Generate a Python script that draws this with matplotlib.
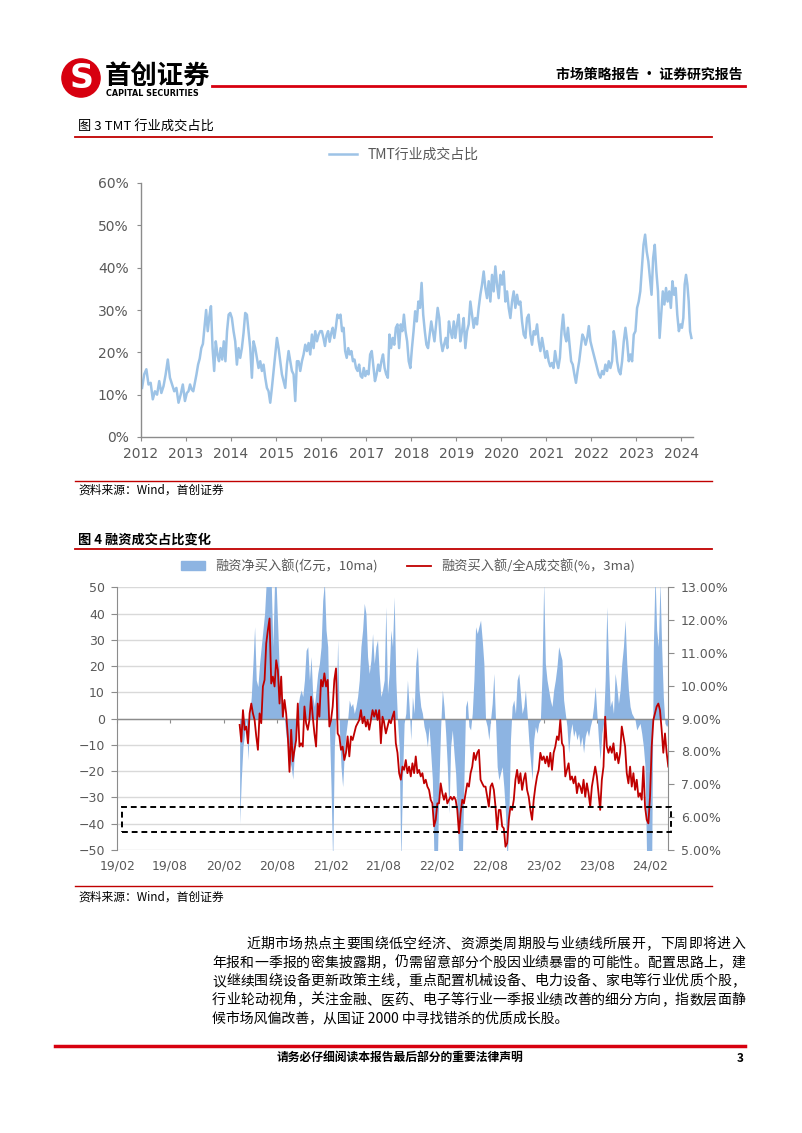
import numpy as np
import matplotlib
matplotlib.use("Agg")
import matplotlib.pyplot as plt
import matplotlib.dates as mdates
from matplotlib import font_manager
from matplotlib.patches import Rectangle, Circle, Patch
from matplotlib.lines import Line2D
import datetime as dt

# ---------------- data: figure 3 (TMT share of turnover, %) ----------------
tmt_2012 = [11.6, 14.8, 16.0, 12.4, 12.8, 8.9, 10.8, 10.0, 13.2, 10.4, 12.0, 14.8, 18.3, 14.0,
            12.4, 10.8, 11.6, 8.1, 10.0, 12.4, 8.5]
tmt_2013 = [10.4, 10.8, 12.4, 11.2, 10.8, 12.8, 14.8, 17.1, 18.5, 21.0, 22.0, 26.0, 30.0, 25.0,
            28.5, 30.9, 21.0, 15.6, 22.6, 19.5, 17.9, 21.0, 18.3, 22.6, 17.9, 25.0, 28.9, 29.3]
tmt_2014 = [28.1, 25.0, 22.6, 17.1, 21.0, 18.7, 21.0, 24.6, 29.3, 28.9, 25.0, 21.0, 14.0, 22.6,
            21.0, 18.7, 16.3, 17.9, 15.6, 17.1, 14.0, 11.6, 10.8, 8.1, 11.6, 15.6, 19.5]
tmt_2015 = [23.4, 21.0, 17.9, 14.8, 13.2, 11.6, 17.1, 20.3, 17.9, 15.6, 14.8, 8.5, 17.9, 17.9,
            15.6, 17.9, 19.5, 21.8, 20.3, 22.2, 19.5, 24.2, 21.0, 25.0, 22.6, 24.2, 25.0]
tmt_2016 = [25.0, 23.4, 21.5, 24.0, 25.0, 22.5, 24.5, 25.8, 23.4, 25.8, 28.9, 28.1, 28.9, 25.0,
            25.8, 20.3, 18.7, 21.0, 19.5, 20.3, 17.9, 18.3, 16.3, 15.6, 17.1, 14.4, 14.0, 16.3, 14.4]
tmt_2017 = [15.6, 14.8, 19.5, 20.3, 16.7, 13.2, 14.8, 17.1, 15.6, 17.9, 19.5, 16.3, 14.8, 14.0,
            24.2, 21.0, 23.4, 21.8, 25.8, 26.6, 21.0, 26.6, 25.0, 28.9, 25.0, 22.6, 17.9, 16.3]
tmt_2018 = [21.0, 25.0, 29.7, 27.3, 32.0, 30.5, 36.4, 28.9, 25.0, 21.8, 21.0, 24.2, 27.3, 25.0,
            22.6, 26.6, 30.5, 28.1, 22.6, 20.3, 21.8, 23.4, 21.0, 27.3, 25.0, 23.4, 27.3, 23.4]
tmt_2019 = [26.6, 28.9, 22.6, 25.0, 28.1, 21.0, 25.0, 26.6, 32.0, 28.9, 25.8, 28.1, 26.6, 30.5,
            33.6, 36.0, 39.1, 35.2, 32.8, 36.8, 32.0, 38.3, 34.4, 40.3, 36.0, 32.8, 38.3]
tmt_2020 = [36.0, 39.1, 32.0, 34.4, 30.5, 28.1, 32.0, 34.4, 30.5, 33.6, 31.3, 32.0, 27.3, 24.2,
            23.4, 28.1, 28.9, 24.2, 21.8, 25.0, 24.2, 26.6, 22.6, 20.3, 23.4, 21.0, 18.7]
tmt_2021 = [20.3, 17.9, 16.7, 17.5, 16.3, 20.3, 17.9, 16.3, 18.7, 25.0, 28.9, 24.2, 22.6, 25.8,
            21.8, 17.9, 17.1, 14.8, 12.8, 15.6, 17.9, 21.0, 24.2, 23.4, 21.8, 23.4, 26.2, 22.6]
tmt_2022 = [21.0, 19.5, 17.9, 16.3, 14.8, 14.0, 15.6, 14.8, 17.1, 15.6, 17.9, 16.3, 17.9, 25.0,
            22.6, 17.9, 15.6, 14.8, 17.9, 22.6, 25.8, 22.6, 17.9, 19.5, 17.9, 24.2, 25.0]
tmt_2023 = [30.5, 32.0, 34.4, 39.9, 45.4, 47.8, 43.8, 41.5, 37.5, 33.6, 42.3, 45.4, 39.1, 34.4,
            23.4, 28.9, 34.4, 31.3, 35.2, 32.0, 34.4, 30.5, 36.8, 33.6, 35.2, 28.9, 25.0, 26.6]
tmt_2024 = [25.8, 28.1, 36.0, 38.3, 36.0, 32.0, 25.0, 23.4]
tmt_years = list(range(2012, 2025))
tmt_2024_span = 0.24   # data runs to late March 2024
tmt_yticks = [0, 10, 20, 30, 40, 50, 60]

# ---------------- data: figure 4 (margin financing) ----------------
net_buy = [  # 融资净买入额, 亿元, 10ma
    -40, -23, -10.6, -5.6, 0, -15.7, 0.8, 8.4, 21, 35, 14.7, 12.2, 21, 27.4, 33.7, 40, 52, 55, 55,
    52, 27.4, 52, 51, 33.7, 14.7, 8.4, 2, -0.5, -6.8, -10.6, -15.7, -18.3, -23, -13, -5.6, 4.6, 8.4,
    10.9, 8.4, 14.7, 26, 27.4, 14.7, 23.6, 8.4, 4.6, 10.9, 17.2, 21, 27.4, 45, 52, 33.7, 27.4, -3,
    -25.9, -55, -10.6, 2, 30, -3, -18.3, -25.9, -13, -5.6, -0.5, 7.1, 4.6, 5.8, 2, 4.6, 8.4, 14.7,
    27.4, 33.7, 43.9, 40, 23.6, 17.2, 22.3, 32.4, 21, 27.4, 30, 17.2, 8.4, 10.9, 14.7, 42.6, 9.6,
    17.2, 33.7, 27.4, 46.4, 14.7, -0.5, -10.6, -55, -23.3, -1.8, 2, 14.7, 4.6, -8.1, 8.4, 2, 21,
    27.4, 10.9, 4.6, 2, -3, -5.6, -10.6, -3, -13, -23.3, -55, -55, -55, -23.3, -3, 10.9, 4.6, -5.6,
    -18.3, -36, -10.6, -4.3, -13, -20.8, -36, -55, -55, -55, -23.3, 4.6, 7.1, -3, -4.3, 2, 14.7,
    35, 32.4, 35, 37.5, 30, 21,
    -0.5, -3, -8.1, -0.5, 5.8, 17.2, -0.5, -18.3, -23.3, -20.8, -18.3, -25.9, -36, -55, -38.5,
    -8.1, 4.6, 7.1, 2, 14.7, 17.2, 9.6, 2, 4.6, 10.9, 2, -8.1, -15.7, -23.3, -8.1, -3, -5.6, -1.8,
    -0.5, 17.2, 52, 21, 14.7, 10.9, 7.1, 4.6, 10.9, 14.7, 19.8, 27.4, 24.8, 22.3, 7.1, 2, -3, -13,
    -5.6, -1.8, -6.8, -4.3, -8.1, -5.6, -10.6, -6.8, -13, -6.8, -4.3, -6.8, -3, -0.5, 4.6, 12.2,
    2, -8.1, -15.7, -5.6, -1.8, 14.7, 42.6, 21, 4.6, 7.1, 2, 17.2, 12.2, 5.8, 10.9, 21, 27.4, 37.5,
    21, 10.9, 4.6, 2, 0.8, -0.5, -4.3, -3, -1.8, -5.6, -10.6, -18.3, -55, -55, -55, -55, 27.4, 55,
    33.7, 27.4, 52, 27.4, 8.4, -1.8, -3, -1.8]
buy_ratio = [  # 融资买入额/全A成交额, %, 3ma
    8.81, 8.30, 9.26, 8.66, 8.76, 8.25, 9.16, 9.46, 9.16, 8.96, 8.46, 8.05, 9.16, 8.86, 9.98,
    10.18, 11.29, 11.70, 12.05, 10.07, 10.28, 9.98, 10.78, 10.48, 9.46, 10.28, 9.06, 9.57, 9.16,
    8.46, 7.38, 8.66, 7.70, 8.05, 8.35, 9.46, 8.15,
    8.25, 8.15, 9.37, 8.86, 8.66, 8.96, 9.67, 9.06, 8.55, 8.15, 9.46, 9.06, 10.18, 9.98, 10.38,
    9.98, 10.18, 8.76, 8.96, 9.37, 10.18, 10.53, 8.55, 8.46, 8.05, 8.15, 7.74, 7.96, 8.46, 7.85,
    8.46, 8.35, 8.55, 8.76, 8.86, 8.96, 9.26, 8.86, 9.06, 8.76, 8.96, 8.66, 8.96, 9.26, 9.06, 9.26,
    8.96, 9.26, 8.25, 9.06, 8.86, 8.55, 8.76, 8.96, 8.86, 9.06, 9.22, 8.25, 7.96, 7.34, 7.14, 7.54,
    7.44, 7.74, 7.34, 7.54, 7.24, 7.64, 7.34, 7.85, 7.34, 7.44, 7.24, 7.34, 7.03, 7.14, 6.93, 6.83,
    6.53, 6.42, 5.72, 5.92, 6.42, 6.42, 7.03, 6.73, 6.53, 6.73, 6.42, 6.53, 6.62, 6.53, 6.62, 6.53,
    6.22, 5.51, 6.12, 6.53, 6.42, 6.73, 7.03, 6.93, 7.34, 7.54, 7.96, 7.74, 7.96, 8.05, 7.14, 7.03,
    6.93,
    6.93, 6.62, 6.32, 6.93, 7.03, 6.83, 6.32, 5.62, 6.22, 6.22, 5.72, 5.66, 5.10, 5.21, 5.92, 6.32,
    6.22, 6.53, 7.14, 7.44, 7.03, 7.34, 6.83, 7.14, 7.34, 6.83, 6.62, 6.22, 5.92, 6.53, 6.93, 7.24,
    7.44, 7.96, 7.74, 7.85, 7.64, 7.85, 7.54, 7.96, 7.44, 7.96, 8.15, 8.46, 8.35, 8.96, 8.25, 8.15,
    7.24, 7.44, 7.64, 7.14, 7.24, 7.03, 7.24, 6.73, 7.03, 6.93, 6.73, 7.14, 6.62, 7.03, 6.73, 6.32,
    6.93, 7.24, 7.54, 7.24, 6.73, 6.22, 7.14, 7.54, 9.06, 8.15, 7.96, 8.15, 7.96, 8.25, 7.74, 7.96,
    7.64, 7.96, 8.76, 8.46, 8.15, 7.34, 7.03, 7.54, 6.93, 7.34, 6.83, 7.14, 6.62, 6.73, 6.53, 7.54,
    6.32, 5.92, 5.81, 6.62, 8.15, 8.96, 9.16, 9.37, 9.46, 9.26, 8.66, 7.96, 8.55, 7.96, 7.54]
margin_start = dt.date(2020, 3, 26)
margin_end = dt.date(2024, 4, 2)
margin_ticks = ["19/02", "19/08", "20/02", "20/08", "21/02", "21/08", "22/02", "22/08",
                "23/02", "23/08", "24/02"]
net_yticks = [50, 40, 30, 20, 10, 0, -10, -20, -30, -40, -50]
ratio_yticks = [5, 6, 7, 8, 9, 10, 11, 12, 13]
box_ratio = (5.56, 6.30)

paragraph = [
    "近期市场热点主要围绕低空经济、资源类周期股与业绩线所展开，下周即将进入",
    "年报和一季报的密集披露期，仍需留意部分个股因业绩暴雷的可能性。配置思路上，建",
    "议继续围绕设备更新政策主线，重点配置机械设备、电力设备、家电等行业优质个股，",
    "行业轮动视角，关注金融、医药、电子等行业一季报业绩改善的细分方向，指数层面静",
    "候市场风偏改善，从国证 2000 中寻找错杀的优质成长股。",
]

# ---------------- styling ----------------
W, H = 802, 1133
CJK = ['Noto Sans CJK SC', 'DejaVu Sans']
names = {f.name for f in font_manager.fontManager.ttflist}
NUM = ['Liberation Sans Narrow'] if 'Liberation Sans Narrow' in names else ['DejaVu Sans']
NUM_SIZE = 12 if NUM[0] != 'DejaVu Sans' else 10
GREY = '#595959'
AXIS = '#8C8C8C'
RED = '#D7000F'
DARKRED = '#C00000'
BLUE = '#8DB4E2'
LIGHTBLUE = '#9DC3E6'


def fx(x):
    return x / W


def fy(y):
    return 1 - y / H


fig = plt.figure(figsize=(W / 100, H / 100), dpi=100)


def hline(y, x0, x1, color, lw):
    fig.add_artist(Line2D([fx(x0), fx(x1)], [fy(y), fy(y)], color=color, lw=lw))


# ---------------- page header ----------------
logo = fig.add_axes([fx(60), fy(99), fx(42), fy(57) - fy(99)])
logo.set_xlim(-1.1, 1.1)
logo.set_ylim(-1.1, 1.1)
logo.set_aspect('equal')
logo.axis('off')
logo.add_patch(Circle((0, 0), 1.0, color=RED))
logo.text(0.02, -0.05, "S", color='white', fontsize=24, fontweight='bold', ha='center',
          va='center', family='DejaVu Sans')
fig.text(fx(105), fy(76), "首创证券", family=CJK, fontsize=19, fontweight='bold',
         color='black', va='center', ha='left')
fig.text(fx(106), fy(93), "CAPITAL SECURITIES", family='DejaVu Sans', fontsize=5.8,
         fontweight='bold', color='black', va='center', ha='left')
hline(86, 212, 745, RED, 2.0)
fig.text(fx(742), fy(75), "市场策略报告 · 证券研究报告", family=CJK, fontsize=10,
         fontweight='bold', color='black', ha='right', va='center')

# ---------------- figure 3 ----------------
fig.text(fx(78), fy(127), "图 3 TMT 行业成交占比", family=CJK, fontsize=9.5, color='black',
         va='center')
hline(137, 75, 712, DARKRED, 1.3)

ax1 = fig.add_axes([fx(141), fy(437), fx(693) - fx(141), fy(183) - fy(437)])
tmt_lists = [tmt_2012, tmt_2013, tmt_2014, tmt_2015, tmt_2016, tmt_2017, tmt_2018, tmt_2019,
             tmt_2020, tmt_2021, tmt_2022, tmt_2023, tmt_2024]
tmt_x, tmt_y = [], []
for year, vals in zip(tmt_years, tmt_lists):
    span = tmt_2024_span if year == 2024 else 1.0
    tmt_x.extend(year + (np.arange(len(vals)) + 0.5) * span / len(vals))
    tmt_y.extend(vals)
tmt_line, = ax1.plot(tmt_x, tmt_y, color=LIGHTBLUE, lw=1.8)
ax1.set_xlim(2012, 2024 + tmt_2024_span + 0.02)
ax1.set_ylim(0, 60)
ax1.set_yticks(tmt_yticks)
ax1.set_yticklabels([f"{v}%" for v in tmt_yticks])
ax1.set_xticks(tmt_years)
ax1.set_xticklabels([str(y) for y in tmt_years])
for s in ['top', 'right']:
    ax1.spines[s].set_visible(False)
for s in ['left', 'bottom']:
    ax1.spines[s].set_color(AXIS)
    ax1.spines[s].set_linewidth(1.0)
ax1.tick_params(direction='out', length=3, color=AXIS, labelcolor=GREY, labelsize=NUM_SIZE)
ax1.tick_params(axis='y', pad=6)
ax1.tick_params(axis='x', pad=4)
for lab in ax1.get_xticklabels() + ax1.get_yticklabels():
    lab.set_family(NUM)
fig.legend([tmt_line], ["TMT行业成交占比"], loc='center', bbox_to_anchor=(fx(404), fy(155)),
           frameon=False, handlelength=2.0, prop={'family': CJK, 'size': 10},
           labelcolor=GREY)

hline(481, 75, 712, DARKRED, 1.0)
fig.text(fx(78), fy(490), "资料来源：Wind，首创证券", family=CJK, fontsize=8.5, color='black',
         va='center')

# ---------------- figure 4 ----------------
fig.text(fx(78), fy(540), "图 4 融资成交占比变化", family=CJK, fontsize=9.5, color='black',
         va='center', fontweight='bold')
hline(549, 75, 712, DARKRED, 1.3)

ax2 = fig.add_axes([fx(117.3), fy(850), fx(668.3) - fx(117.3), fy(587.3) - fy(850)])
d0, d1 = mdates.date2num(margin_start), mdates.date2num(margin_end)
net_x = np.linspace(d0, d1, len(net_buy))
ratio_x = np.linspace(d0, d1, len(buy_ratio))
tick_dates = [mdates.date2num(dt.date(2000 + int(t[:2]), int(t[3:]), 1)) for t in margin_ticks]

ax2.fill_between(net_x, 0, net_buy, color=BLUE, lw=0, zorder=2)
ax2.set_ylim(-50, 50)
ax2.set_xlim(tick_dates[0], d1)
ax2.set_yticks(net_yticks)
ax2.set_yticklabels([str(v) if v >= 0 else f"−{-v}" for v in net_yticks])
ax2.yaxis.grid(True, color='#D9D9D9', lw=1.0, zorder=0)
ax2.set_axisbelow(True)
ax2.axhline(0, color='#8C8C8C', lw=1.0, zorder=3)
ax2.set_xticks(tick_dates)
ax2.set_xticklabels(margin_ticks)
for s in ['top', 'right', 'bottom']:
    ax2.spines[s].set_visible(False)
ax2.spines['left'].set_color(AXIS)
ax2.tick_params(axis='y', direction='out', length=4, color=AXIS, labelcolor=GREY,
                labelsize=NUM_SIZE - 1, pad=5)
ax2.tick_params(axis='x', length=0, labelcolor=GREY, labelsize=NUM_SIZE - 1, pad=7)
for lab in ax2.get_xticklabels() + ax2.get_yticklabels():
    lab.set_family(NUM)

sec = ax2.secondary_xaxis(0.5)
sec.set_alignment('bottom')
sec.set_xticks(tick_dates)
sec.tick_params(direction='out', length=3, color=AXIS, labelbottom=False, labeltop=False)
sec.spines['bottom'].set_visible(False)
sec.spines['top'].set_visible(False)

ax2r = ax2.twinx()
ratio_line, = ax2r.plot(ratio_x, buy_ratio, color=DARKRED, lw=1.3, zorder=4)
ax2r.set_ylim(5, 13)
ax2r.set_yticks(ratio_yticks)
ax2r.set_yticklabels([f"{v:.2f}%" for v in ratio_yticks])
for s in ['top', 'left', 'bottom']:
    ax2r.spines[s].set_visible(False)
ax2r.spines['right'].set_color(AXIS)
ax2r.tick_params(axis='y', direction='out', length=4, color=AXIS, labelcolor=GREY,
                 labelsize=NUM_SIZE - 1, pad=5)
for lab in ax2r.get_yticklabels():
    lab.set_family(NUM)

box_x0 = tick_dates[0] + 15
ax2r.add_patch(Rectangle((box_x0, box_ratio[0]), d1 + 10 - box_x0, box_ratio[1] - box_ratio[0],
                         fill=False, ec='black', lw=1.4, ls=(0, (3, 2)), clip_on=False,
                         zorder=6))

fig.legend([Patch(color=BLUE), ratio_line],
           ["融资净买入额(亿元，10ma)", "融资买入额/全A成交额(%，3ma)"],
           loc='center', bbox_to_anchor=(fx(408), fy(566)), ncol=2, frameon=False,
           handlelength=1.8, handleheight=0.6, columnspacing=2.2,
           prop={'family': CJK, 'size': 9.5}, labelcolor=GREY)

hline(886, 75, 712, DARKRED, 1.0)
fig.text(fx(78), fy(897), "资料来源：Wind，首创证券", family=CJK, fontsize=8.5, color='black',
         va='center')

# ---------------- body text ----------------
char_w = 13.9
line_y0, line_gap = 944, 18.6
for i, line in enumerate(paragraph):
    y = line_y0 + i * line_gap
    x_left = 246 if i == 0 else 212
    if i < len(paragraph) - 1:
        xs = np.linspace(x_left, 745 - char_w, len(line))
        for ch, x in zip(line, xs):
            fig.text(fx(x), fy(y), ch, family=CJK, fontsize=10, color='black', va='center',
                     ha='left')
    else:
        fig.text(fx(x_left), fy(y), line, family=CJK, fontsize=10, color='black',
                 va='center', ha='left')

# ---------------- footer ----------------
hline(1046, 55, 745, RED, 2.5)
fig.text(fx(400), fy(1058), "请务必仔细阅读本报告最后部分的重要法律声明", family=CJK,
         fontsize=8.5, fontweight='bold', color='black', ha='center', va='center')
fig.text(fx(740), fy(1058), "3", family=CJK, fontsize=8.5, fontweight='bold', color='black',
         ha='center', va='center')

fig.savefig("out.png", dpi=100)
